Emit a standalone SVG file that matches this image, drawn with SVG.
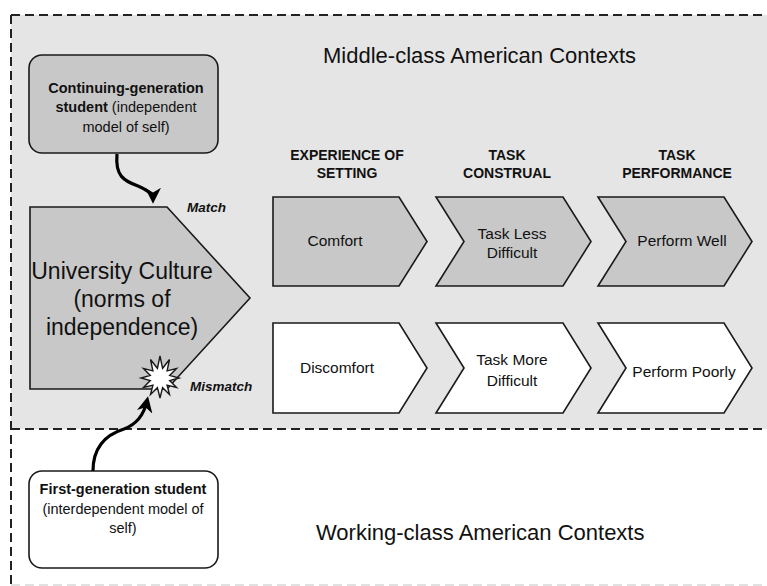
<svg xmlns="http://www.w3.org/2000/svg" width="767" height="586" viewBox="0 0 767 586">
<style>
text{font-family:"Liberation Sans",Arial,sans-serif;fill:#111}
.dash{stroke:#222;stroke-width:2;stroke-dasharray:9 5;fill:none}
.node{fill:#c8c8c8;stroke:#1a1a1a;stroke-width:1.6}
.white{fill:#ffffff;stroke:#1a1a1a;stroke-width:1.6}
.hdr{font-size:14px;font-weight:bold;text-anchor:middle}
.lbl{font-size:15.5px;text-anchor:middle}
.stu{font-size:14.5px;text-anchor:middle}
.b{font-weight:bold}
.mm{font-size:13.5px;font-weight:bold;font-style:italic}
.title{font-size:22px}
.conn{fill:none;stroke:#000;stroke-width:3.2}
</style>
<defs>
<marker id="ah" viewBox="0 0 10 10" refX="7" refY="5" markerWidth="5" markerHeight="5" orient="auto" markerUnits="strokeWidth">
<path d="M0,0 L10,5 L0,10 L3,5 Z" fill="#000"/>
</marker>
</defs>
<rect x="11" y="15" width="760" height="414" fill="#e5e5e5"/>
<path class="dash" d="M11,15 H767"/>
<path class="dash" d="M11,15 V586"/>
<path class="dash" d="M11,429 H767"/>
<path d="M11,585 H767" stroke="#d8d8d8" stroke-width="1.5" stroke-dasharray="9 5" fill="none"/>
<text class="title" x="323" y="63">Middle-class American Contexts</text>
<text class="title" x="316" y="540">Working-class American Contexts</text>
<g id="headers">
<text class="hdr" x="347" y="160">EXPERIENCE OF</text>
<text class="hdr" x="347" y="178">SETTING</text>
<text class="hdr" x="507" y="160">TASK</text>
<text class="hdr" x="507" y="178">CONSTRUAL</text>
<text class="hdr" x="677" y="160">TASK</text>
<text class="hdr" x="677" y="178">PERFORMANCE</text>
</g>
<g id="continuing">
<rect class="node" x="29" y="55" width="189" height="98" rx="13"/>
<text class="stu b" x="126" y="93">Continuing-generation</text>
<text class="stu" x="126" y="112"><tspan class="b">student</tspan> (independent</text>
<text class="stu" x="126" y="132">model of self)</text>
</g>
<g id="university">
<path class="node" d="M30,207 H167 L250,298 L167,389 H30 Z"/>
<text x="122" y="279" font-size="23" text-anchor="middle">University Culture</text>
<text x="122" y="307" font-size="23" text-anchor="middle">(norms of</text>
<text x="122" y="335" font-size="23" text-anchor="middle">independence)</text>
</g>
<g id="starburst">
<polygon fill="#fff" stroke="#1a1a1a" stroke-width="1.4" points="179,378 169.7,380.6 176.5,387.5 167.1,385.1 169.5,394.5 162.6,387.7 160,398 157.4,387.7 150.5,394.5 152.9,385.1 143.5,387.5 150.3,380.6 141,378 150.3,375.4 143.5,368.5 152.9,370.9 150.5,359.5 157.4,368.3 160,356 162.6,368.3 169.5,359.5 167.1,370.9 176.5,368.5 169.7,375.4"/>
</g>
<text class="mm" x="187" y="212">Match</text>
<text class="mm" x="190" y="391">Mismatch</text>
<g id="firstgen">
<rect class="white" x="29" y="471" width="189" height="97" rx="13"/>
<text class="stu b" x="123" y="494">First-generation student</text>
<text class="stu" x="123" y="514">(interdependent model of</text>
<text class="stu" x="123" y="533">self)</text>
</g>
<g id="comfort">
<path class="node" d="M273,197 H399 L427,241.5 L399,286 H273 Z"/>
<text class="lbl" x="335" y="246">Comfort</text>
</g>
<g id="taskless">
<path class="node" d="M436,197 H563 L591,241.5 L563,286 H436 L464,241.5 Z"/>
<text class="lbl" x="512" y="239">Task Less</text>
<text class="lbl" x="512" y="258">Difficult</text>
</g>
<g id="performwell">
<path class="node" d="M598,197 H724 L752,241.5 L724,286 H598 L626,241.5 Z"/>
<text class="lbl" x="682" y="246">Perform Well</text>
</g>
<g id="discomfort">
<path class="white" d="M273,323 H399 L427,368 L399,413 H273 Z"/>
<text class="lbl" x="337" y="373">Discomfort</text>
</g>
<g id="taskmore">
<path class="white" d="M436,323 H563 L591,368 L563,413 H436 L464,368 Z"/>
<text class="lbl" x="512" y="365">Task More</text>
<text class="lbl" x="512" y="386">Difficult</text>
</g>
<g id="performpoorly">
<path class="white" d="M598,323 H724 L752,368 L724,413 H598 L626,368 Z"/>
<text class="lbl" x="684" y="377">Perform Poorly</text>
</g>
<g id="connectors">
<path class="conn" d="M117,154 C115,176 124,181 138,186 C150,191 153,196 153,199" marker-end="url(#ah)"/>
<path class="conn" d="M93,471 C93,445 108,434 124,429 C140,423 145,410 147,401" marker-end="url(#ah)"/>
</g>
</svg>
